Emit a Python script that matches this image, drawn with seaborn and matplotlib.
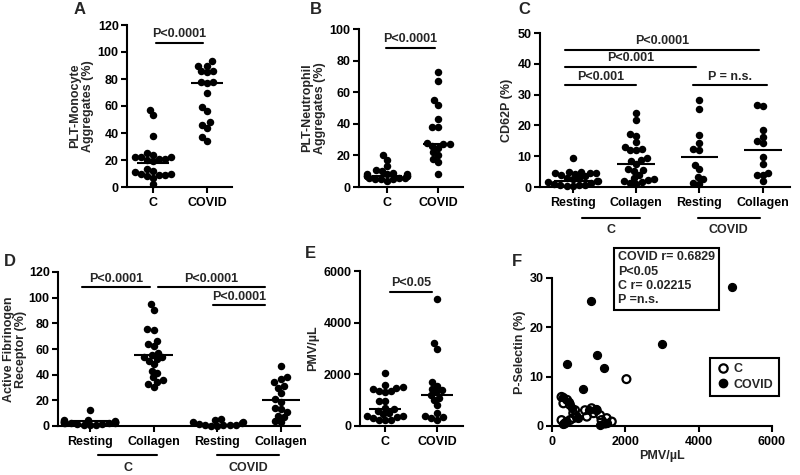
import warnings
import numpy as np
import pandas as pd
import matplotlib.pyplot as plt
from matplotlib.lines import Line2D
import seaborn as sns

warnings.filterwarnings('ignore')

# A: PLT-Monocyte aggregates (%)
a_c = [57, 53, 38, 25, 24, 22, 22, 22, 21, 21, 20, 19, 13, 12, 11, 10, 10, 9, 9, 8, 7, 2]
a_covid = [93, 90, 90, 86, 86, 85, 78, 78, 77, 70, 59, 56, 48, 46, 44, 37, 34]
a_med = [18, 77]

# B: PLT-Neutrophil aggregates (%)
b_c = [20, 17, 13, 11, 10, 9, 8, 8, 8, 7, 7, 7, 7, 6, 6, 6, 5, 5, 5, 4]
b_covid = [73, 67, 55, 52, 43, 38, 38, 28, 27, 27, 26, 25, 22, 20, 18, 16, 8]
b_med = [7, 27]

# C: CD62P (%)
c_c_rest = [9.5, 5.0, 5.0, 4.6, 4.6, 4.6, 4.3, 3.9, 3.5, 3.0, 2.8, 2.5, 2.0, 2.0, 1.5, 1.2, 1.0, 0.8, 0.6, 0.5, 0.4, 0.3]
c_c_coll = [23.9, 21.8, 17.2, 16.6, 14.5, 13.0, 12.2, 12.0, 12.0, 9.3, 8.8, 8.5, 7.5, 6.0, 5.5, 5.3, 4.0, 2.8, 2.5, 2.3, 1.8, 1.5, 1.2, 1.0]
c_cov_rest = [28.2, 25.3, 16.8, 14.4, 12.4, 12.0, 7.2, 5.8, 3.3, 2.5, 1.2, 1.0]
c_cov_coll = [26.7, 26.2, 18.5, 16.3, 15.0, 14.2, 9.6, 7.5, 4.6, 3.9, 3.8, 1.8]
c_med = [2.0, 7.4, 9.7, 12.0]

# D: Active fibrinogen receptor (%)
d_c_rest = [12.5, 5, 4.5, 4, 4, 3.5, 3.5, 3, 3, 3, 2.5, 2.5, 2, 2, 2, 1.5, 1.5, 1, 1, 0.5]
d_c_coll = [95, 90.6, 75.5, 75, 66, 64, 62, 57, 55, 54, 54, 52, 51, 48, 43, 41, 38, 36, 34.5, 33, 30.5]
d_cov_rest = [5.7, 4.5, 3.5, 3, 2, 1.5, 1, 1, 0.8, 0.5, 0.3, 0.2]
d_cov_coll = [47, 38, 37, 34, 31, 30, 26, 21, 19, 14, 13, 11, 8, 7, 4, 3]
d_med = [3.7, 55.4, 1.0, 20.3]

# E: PMV/uL
e_c = [2050, 1600, 1500, 1480, 1450, 1350, 1340, 1300, 960, 950, 700, 650, 600, 500, 450, 400, 400, 350, 300, 250, 250, 230]
e_covid = [4900, 3200, 3000, 1700, 1550, 1450, 1400, 1300, 1200, 1100, 1000, 800, 500, 400, 350, 300, 250]
e_med = [670, 1215]

# F: PMV vs P-selectin
f_cov_pmv = [4900, 1050, 3000, 1230, 410, 1430, 845, 300, 450, 380, 550, 1000, 1200, 1300, 1500, 300, 700]
f_cov_psel = [28.1, 25.4, 16.7, 14.3, 12.5, 11.8, 7.4, 5.9, 4.8, 1.0, 3.6, 3.2, 3.4, 0.3, 0.6, 0.5, 1.6]
f_c_pmv = [2030, 260, 410, 310, 490, 630, 580, 900, 1080, 1220, 950, 1130, 1310, 1350, 1490, 1630, 260, 350, 490, 580, 670, 1450]
f_c_psel = [9.5, 5.9, 5.3, 4.6, 4.3, 3.2, 2.6, 3.2, 3.6, 3.2, 1.9, 2.6, 2.2, 1.2, 1.6, 0.9, 1.2, 0.5, 1.2, 1.6, 1.9, 0.5]

two_labels = ['C', 'COVID']
four_labels = ['Resting', 'Collagen', 'Resting', 'Collagen']

sns.set_style('ticks')
plt.rcParams['font.family'] = ['Liberation Sans', 'DejaVu Sans']
plt.rcParams['font.weight'] = 'bold'
plt.rcParams['axes.labelweight'] = 'bold'
plt.rcParams['font.size'] = 9
plt.rcParams['axes.linewidth'] = 1.5
plt.rcParams['xtick.major.width'] = 1.5
plt.rcParams['ytick.major.width'] = 1.5
plt.rcParams['xtick.major.size'] = 4
plt.rcParams['ytick.major.size'] = 4
plt.rcParams['ytick.major.pad'] = 2
plt.rcParams['axes.edgecolor'] = 'black'
plt.rcParams['xtick.color'] = 'black'
plt.rcParams['ytick.color'] = 'black'

W, H = 800, 475
fig = plt.figure(figsize=(8, 4.75), dpi=100)
swarm_colls = []
DOT = 5.4  # shown marker size; swarm is packed with a smaller one so dots overlap like the original


def px_axes(left, top, right, bottom):
    return fig.add_axes([left / W, 1 - bottom / H, (right - left) / W, (bottom - top) / H])


def dot_panel(ax, groups, labels, meds, xlim, ylim, yticks, ylabel):
    keys = ['g%d' % i for i in range(len(groups))]
    df = pd.DataFrame({'grp': np.repeat(keys, [len(g) for g in groups]),
                       'val': np.concatenate(groups)})
    n0 = len(ax.collections)
    sns.swarmplot(data=df, x='grp', y='val', order=keys, color='black', size=4.3,
                  linewidth=0, ax=ax, clip_on=False)
    swarm_colls.extend(ax.collections[n0:])
    pos = np.arange(len(groups))
    ax.hlines(meds, pos - 0.3, pos + 0.3, color='black', lw=1.5, zorder=3)
    ax.set_xticks(pos, labels)
    ax.set_xlim(*xlim)
    ax.set_ylim(*ylim)
    ax.set_yticks(yticks)
    ax.set_xlabel('')
    ax.set_ylabel(ylabel, linespacing=1.0, labelpad=3)
    sns.despine(ax=ax)


def bracket(ax, x0, x1, y, text):
    ax.plot([x0, x1], [y, y], color='black', lw=1.5, clip_on=False)
    ax.annotate(text, xy=((x0 + x1) / 2, y), xytext=(0, 2), textcoords='offset points',
                ha='center', va='bottom', annotation_clip=False)


def group_line(ax, x0, x1, text, yline, ytext):
    tr = ax.get_xaxis_transform()
    ax.plot([x0, x1], [yline, yline], color='black', lw=1.5, transform=tr, clip_on=False)
    ax.text((x0 + x1) / 2, ytext, text, transform=tr, ha='center', va='center')


# A
ax = px_axes(127, 25, 232, 187)
dot_panel(ax, [a_c, a_covid], two_labels, a_med, (-0.48, 1.46), (0, 120), range(0, 121, 20),
          'PLT-Monocyte\nAggregates (%)')
bracket(ax, 0.05, 0.93, 107, 'P<0.0001')

# B
ax = px_axes(359, 29, 463, 187)
dot_panel(ax, [b_c, b_covid], two_labels, b_med, (-0.55, 1.49), (0, 100), range(0, 101, 20),
          'PLT-Neutrophil\nAggregates (%)')
bracket(ax, -0.02, 0.94, 88, 'P<0.0001')

# C
ax = px_axes(540, 33, 790, 187)
dot_panel(ax, [c_c_rest, c_c_coll, c_cov_rest, c_cov_coll], four_labels, c_med,
          (-0.52, 3.43), (0, 50), range(0, 51, 10), 'CD62P (%)')
bracket(ax, -0.13, 2.94, 44.5, 'P<0.0001')
bracket(ax, -0.13, 1.94, 39, 'P<0.001')
bracket(ax, -0.13, 1.0, 33, 'P<0.001')
bracket(ax, 1.9, 3.06, 33, 'P = n.s.')
group_line(ax, 0.14, 1.06, 'C', -0.2, -0.28)
group_line(ax, 1.97, 2.95, 'COVID', -0.2, -0.28)

# D
ax = px_axes(58, 272, 300, 426)
dot_panel(ax, [d_c_rest, d_c_coll, d_cov_rest, d_cov_coll], four_labels, d_med,
          (-0.5, 3.3), (0, 120), range(0, 121, 20), 'Active Fibrinogen\nReceptor (%)')
ax.yaxis.labelpad = 1
bracket(ax, -0.13, 0.95, 108, 'P<0.0001')
bracket(ax, 1.07, 2.75, 108, 'P<0.0001')
bracket(ax, 1.94, 2.75, 94, 'P<0.0001')
group_line(ax, 0.13, 1.06, 'C', -0.19, -0.27)
group_line(ax, 2.0, 2.97, 'COVID', -0.19, -0.27)

# E
ax = px_axes(360, 271, 463, 426)
dot_panel(ax, [e_c, e_covid], two_labels, e_med, (-0.48, 1.5), (0, 6000), range(0, 6001, 2000),
          'PMV/µL')
bracket(ax, 0.1, 0.9, 5200, 'P<0.05')

# F
ax = px_axes(552, 278, 772, 426)
sns.scatterplot(x=f_cov_pmv, y=f_cov_psel, ax=ax, color='black', edgecolor='black',
                s=32, linewidth=1, clip_on=False, zorder=3)
sns.scatterplot(x=f_c_pmv, y=f_c_psel, ax=ax, color='black', edgecolor='black',
                s=32, linewidth=1.6, clip_on=False, zorder=4)
ax.collections[-1].set_facecolor('none')
ax.set_xlim(0, 6000)
ax.set_ylim(0, 30)
ax.set_xticks(range(0, 6001, 2000))
ax.set_yticks(range(0, 31, 10))
ax.set_xlabel('PMV/µL', labelpad=1)
ax.set_ylabel('P-Selectin (%)', labelpad=3)
sns.despine(ax=ax)
handles = [Line2D([], [], ls='', marker='o', ms=6, mfc='none', mec='black', mew=1.6),
           Line2D([], [], ls='', marker='o', ms=6, mfc='black', mec='black')]
leg = ax.legend(handles, ['C', 'COVID'], loc='upper right', bbox_to_anchor=(1.03, 0.46),
                fancybox=False, framealpha=1, edgecolor='black', handletextpad=0.3,
                borderpad=0.4, labelspacing=0.3, handlelength=1.2, borderaxespad=0)
leg.get_frame().set_linewidth(1.5)
ax.text(0.3, 1.18, 'COVID r= 0.6829\nP<0.05\nC r= 0.02215\nP =n.s.', transform=ax.transAxes,
        ha='left', va='top', linespacing=1.25,
        bbox=dict(boxstyle='square,pad=0.3', fc='white', ec='black', lw=1.5))

# panel letters
for letter, x, y in [('A', 80, 10), ('B', 316, 10), ('C', 524, 10),
                     ('D', 10, 261), ('E', 310, 253), ('F', 517, 262)]:
    fig.text(x / W, 1 - y / H, letter, fontsize=12, weight='bold', ha='center', va='center')

# lay out the swarms once, then freeze them and enlarge the dots
fig.canvas.draw()
for c in swarm_colls:
    c.__dict__.pop('draw', None)
    c.set_sizes([DOT ** 2])

fig.savefig('out.png', dpi=100)
